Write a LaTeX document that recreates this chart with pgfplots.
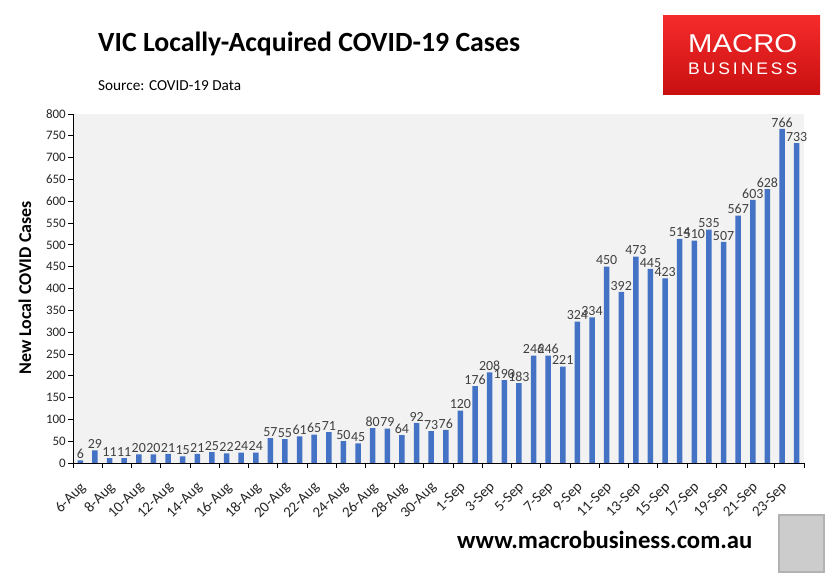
\documentclass[border=0pt]{standalone}
\usepackage{fontspec}
\setmainfont{Carlito}
\newfontfamily\logofont{Liberation Sans}
\usepackage{graphicx}
\usepackage{pgfplots}
\pgfplotsset{compat=1.18}
\definecolor{barblue}{HTML}{4472C4}
\definecolor{bggray}{HTML}{F2F2F2}
\definecolor{lbl}{HTML}{404040}
\definecolor{mbredA}{HTML}{F52B2B}
\definecolor{mbredB}{HTML}{E51E1E}
\definecolor{mbredC}{HTML}{C80F10}
\begin{document}
\begin{tikzpicture}
\useasboundingbox (0,0) rectangle (838bp,585bp);
\fill[white] (0,0) rectangle (838bp,585bp);
% title and source
\node[anchor=base west, inner sep=0] at (98bp,533bp) {\fontsize{27.9}{33}\selectfont\bfseries VIC Locally-Acquired COVID-19 Cases};
\node[anchor=base west, inner sep=0] at (98bp,494.5bp) {\fontsize{15.3}{18}\selectfont Source: COVID-19 Data};
% logo
\shade[top color=mbredA, middle color=mbredB, bottom color=mbredC] (663bp,490bp) rectangle (820bp,569bp);
\node[anchor=south west, inner sep=0, text=white] at (688bp,531.7bp) {\resizebox{109bp}{18bp}{\logofont MACRO}};
\node[anchor=south west, inner sep=0, text=white] at (688bp,510bp) {\resizebox{109bp}{11.7bp}{\logofont B\,U\,S\,I\,N\,E\,S\,S}};
% footer
\node[anchor=base west, inner sep=0] at (457bp,37bp) {\fontsize{24.8}{29}\selectfont\bfseries www.macrobusiness.com.au};
\draw[gray!60, line width=1.5bp, fill=gray!40] (779bp,13bp) rectangle (824bp,70bp);
% y label
\node[rotate=90, font=\bfseries\fontsize{18}{21}\selectfont] at (25bp,297bp) {New Local COVID Cases};
\begin{axis}[
  at={(73bp,122bp)}, anchor=south west,
  scale only axis, width=731bp, height=349bp,
  xmin=-0.5, xmax=49.5, ymin=0, ymax=800,
  clip=false,
  axis x line*=bottom, axis y line*=left,
  axis line style={black, line width=0.8bp},
  axis background/.style={fill=bggray},
  /pgf/number format/assume math mode=true,
  ybar, bar width=5.5bp, bar shift=0pt,
  tick align=outside, major tick length=5bp,
  tick style={black, line width=0.8bp},
  ytick={0,50,...,800},
  yticklabel style={font=\fontsize{13}{16}\selectfont, text=black!85, inner sep=2bp},
  xtick={0,2,...,48},
  xticklabels={6-Aug,8-Aug,10-Aug,12-Aug,14-Aug,16-Aug,18-Aug,20-Aug,22-Aug,24-Aug,26-Aug,28-Aug,30-Aug,1-Sep,3-Sep,5-Sep,7-Sep,9-Sep,11-Sep,13-Sep,15-Sep,17-Sep,19-Sep,21-Sep,23-Sep},
  xticklabel style={rotate=45, anchor=north east, font=\fontsize{15}{17}\selectfont, text=black!85, inner sep=1bp, yshift=-7bp, xshift=-9bp},
  xtick style={draw=none},
  extra x ticks={-0.5,1.5,...,49.5},
  extra x tick labels={},
  extra x tick style={xtick style={draw=black}},
  nodes near coords,
  every node near coord/.append style={font=\fontsize{14}{16}\selectfont, text=lbl, inner sep=1.5bp},
]
\addplot[fill=barblue, draw=none] coordinates {
(0,6) (1,29) (2,11) (3,11) (4,20) (5,20) (6,21) (7,15) (8,21) (9,25)
(10,22) (11,24) (12,24) (13,57) (14,55) (15,61) (16,65) (17,71) (18,50) (19,45)
(20,80) (21,79) (22,64) (23,92) (24,73) (25,76) (26,120) (27,176) (28,208) (29,190)
(30,183) (31,246) (32,246) (33,221) (34,324) (35,334) (36,450) (37,392) (38,473) (39,445)
(40,423) (41,514) (42,510) (43,535) (44,507) (45,567) (46,603) (47,628) (48,766) (49,733)
};
\end{axis}
\end{tikzpicture}
\end{document}
